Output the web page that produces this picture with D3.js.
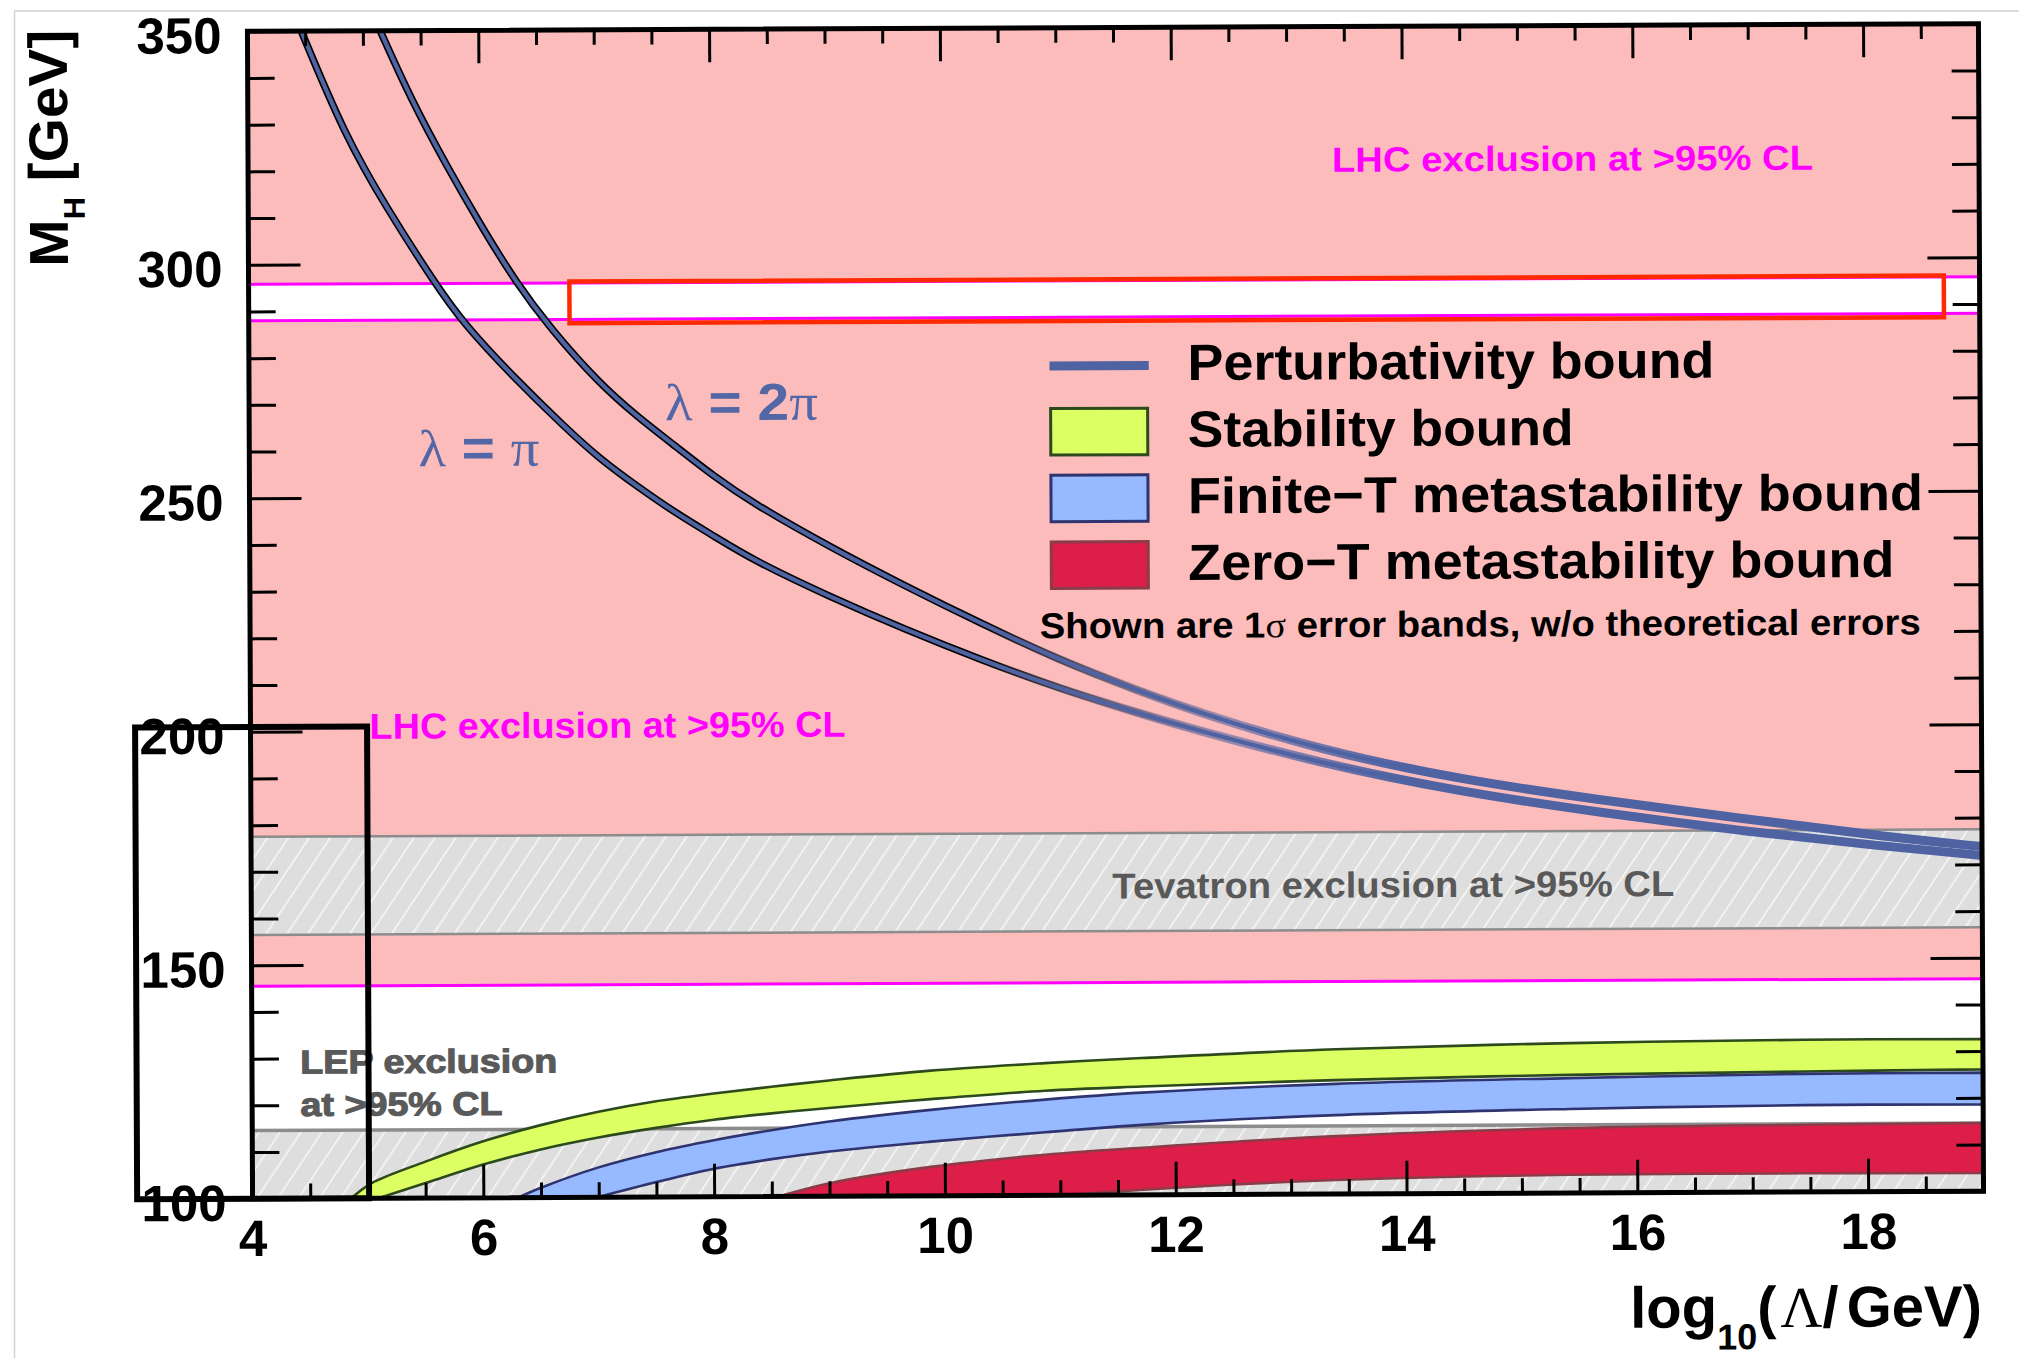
<!DOCTYPE html>
<html>
<head>
<meta charset="utf-8">
<script src="https://cdn.jsdelivr.net/npm/d3@7"></script>
<style>
  html, body { margin: 0; padding: 0; background: #fff; }
  svg { display: block; }
  text { font-family: "Liberation Sans", Arial, Helvetica, sans-serif; font-weight: bold; }
</style>
</head>
<body>
<svg id="chart" width="2019" height="1358"></svg>
<script>
// Higgs mass bounds versus the cut-off scale log10(Λ/GeV)

// axis ticks
const xMajor = [4, 6, 8, 10, 12, 14, 16, 18];
const yMajor = [100, 150, 200, 250, 300, 350];

// perturbativity bounds, λ = π and λ = 2π
const pertPiX  = [4.466, 4.84, 5.195, 5.614, 5.858, 6.30, 6.741, 7.033, 7.365, 7.696, 8.028, 8.36, 9.022, 9.686, 10.336, 11.01, 11.68, 12.05, 13.27, 14.48, 15.70, 16.91, 18.13, 19.0];
const pertPiY  = [350.0, 327.6, 312.2, 295.9, 287.3, 275.5, 264.8, 258.2, 252.1, 246.4, 241.4, 236.3, 228.4, 221.2, 214.7, 208.5, 203.3, 200.5, 192.2, 186.0, 181.4, 177.4, 174.0, 171.9];
const pert2PiX = [5.15, 5.416, 5.725, 6.034, 6.32, 6.61, 7.033, 7.365, 7.696, 8.028, 8.36, 9.022, 9.686, 10.336, 11.01, 11.68, 12.23, 13.27, 14.48, 15.70, 16.91, 18.13, 19.0];
const pert2PiY = [350.0, 335.2, 320.8, 307.4, 295.9, 286.2, 274.3, 267.1, 260.7, 254.2, 248.5, 239.1, 230.5, 222.5, 214.6, 208.1, 203.1, 195.1, 188.6, 184.1, 180.1, 176.1, 173.8];

// stability bound (1σ band)
const stabUpX = [4.855, 5.03, 5.5, 6.0, 6.5, 7.0, 7.5, 8.0, 8.5, 9.0, 9.88, 10.87, 11.71, 13.39, 15.42, 17.45, 19.0];
const stabUpY = [100.0, 103.2, 107.8, 112.1, 115.5, 118.3, 120.5, 122.1, 123.5, 124.8, 126.8, 128.3, 129.3, 131.0, 132.1, 132.6, 132.6];
const stabLoX = [5.09, 5.5, 6.0, 6.5, 7.0, 7.5, 8.0, 8.5, 9.0, 9.88, 10.87, 11.71, 13.39, 15.42, 17.45, 19.0];
const stabLoY = [100.0, 103.2, 107.1, 110.3, 112.8, 114.8, 116.5, 117.8, 118.9, 120.7, 122.4, 123.2, 124.4, 125.3, 125.8, 126.1];

// finite-temperature metastability bound (1σ band)
const finUpX = [6.3, 6.5, 7.0, 7.5, 8.0, 8.5, 9.0, 9.88, 10.87, 11.71, 13.39, 15.42, 17.45, 19.0];
const finUpY = [100.0, 102.1, 106.4, 109.6, 112.1, 114.2, 116.0, 118.4, 120.5, 121.9, 123.6, 124.6, 125.3, 125.4];
const finLoX = [6.99, 7.5, 8.0, 8.5, 9.0, 9.88, 10.87, 11.71, 13.39, 15.42, 17.45, 19.0];
const finLoY = [100.0, 103.2, 106.0, 108.0, 109.6, 111.6, 113.5, 115.0, 116.9, 118.0, 118.6, 118.6];

// zero-temperature metastability bound (1σ band)
const zeroUpX = [8.56, 9.0, 9.88, 10.87, 11.71, 13.39, 15.42, 17.45, 19.0];
const zeroUpY = [100.0, 102.8, 106.2, 108.7, 110.1, 112.4, 113.9, 114.4, 114.6];
const zeroLoX = [11.0, 12.38, 13.39, 14.41, 15.42, 17.45, 19.0];
const zeroLoY = [100.0, 102.0, 103.0, 103.6, 103.9, 104.0, 103.9];

// collider exclusions in M_H (GeV)
const lhcExcl = [[145.5, 288.0], [295.8, 350.0]];
const tevatronExcl = [156.5, 177.5];
const lepLimit = 114.6;

// highlight boxes
const redBoxX = [6.78, 18.69], redBoxY = [287.2, 296.1];
const blackBoxX = [3.0, 5.01], blackBoxY = [100.0, 201.0];

// legend entries
const legendLabels = ["Perturbativity bound", "Stability bound", "Finite\u2212T metastability bound", "Zero\u2212T metastability bound"];
const legendWidths = [527, 386, 735, 706];

const X0 = 250, X1 = 1981, Y0 = 27.5, Y1 = 1195;
const x = d3.scaleLinear().domain([4, 19]).range([X0, X1]);
const y = d3.scaleLinear().domain([100, 350]).range([Y1, Y0]);

const svg = d3.select("#chart");
const defs = svg.append("defs");

const hatch = defs.append("pattern").attr("id", "hatch")
  .attr("patternUnits", "userSpaceOnUse").attr("width", 17.4).attr("height", 17.4)
  .attr("patternTransform", "rotate(34)");
hatch.append("rect").attr("width", 17.4).attr("height", 17.4).attr("fill", "#dedede");
hatch.append("line").attr("x1", 8.7).attr("x2", 8.7).attr("y1", 0).attr("y2", 17.4)
  .attr("stroke", "#f7f7f7").attr("stroke-width", 1.6);

defs.append("clipPath").attr("id", "plotClip").append("rect")
  .attr("x", X0).attr("y", Y0).attr("width", X1 - X0).attr("height", Y1 - Y0);

// outline of the perturbativity curves fades out where the two bands merge
const fade = defs.append("linearGradient").attr("id", "outlineFade")
  .attr("gradientUnits", "userSpaceOnUse").attr("x1", x(10.3)).attr("x2", x(12.6)).attr("y1", 0).attr("y2", 0);
fade.append("stop").attr("offset", 0).attr("stop-color", "#000").attr("stop-opacity", 1);
fade.append("stop").attr("offset", 1).attr("stop-color", "#000").attr("stop-opacity", 0);
const grow = defs.append("linearGradient").attr("id", "blueGrow")
  .attr("gradientUnits", "userSpaceOnUse").attr("x1", x(10.5)).attr("x2", x(14)).attr("y1", 0).attr("y2", 0);
grow.append("stop").attr("offset", 0).attr("stop-color", "#4f63a3").attr("stop-opacity", 0);
grow.append("stop").attr("offset", 1).attr("stop-color", "#4f63a3").attr("stop-opacity", 1);

// faint page border
svg.append("rect").attr("x", 14.5).attr("y", 11).attr("width", 2100).attr("height", 1500)
  .attr("fill", "none").attr("stroke", "#d2d2d2").attr("stroke-width", 1.5);

const root = svg.append("g").attr("transform", "rotate(-0.25, 1116, 612)");
const plot = root.append("g").attr("clip-path", "url(#plotClip)");

// LHC exclusion regions
lhcExcl.forEach(([lo, hi]) => {
  plot.append("rect").attr("x", x(4)).attr("width", x(19) - x(4))
    .attr("y", y(hi)).attr("height", y(lo) - y(hi)).attr("fill", "#fdbcbc");
});

// Tevatron exclusion
plot.append("rect").attr("x", x(4)).attr("width", x(19) - x(4))
  .attr("y", y(tevatronExcl[1])).attr("height", y(tevatronExcl[0]) - y(tevatronExcl[1]))
  .attr("fill", "url(#hatch)");
tevatronExcl.forEach(v => plot.append("line").attr("x1", x(4)).attr("x2", x(19))
  .attr("y1", y(v)).attr("y2", y(v)).attr("stroke", "#8c8c8c").attr("stroke-width", 2.5));

// LEP exclusion
plot.append("rect").attr("x", x(4)).attr("width", x(19) - x(4))
  .attr("y", y(lepLimit)).attr("height", y(100) - y(lepLimit)).attr("fill", "url(#hatch)");
plot.append("line").attr("x1", x(4)).attr("x2", x(19)).attr("y1", y(lepLimit)).attr("y2", y(lepLimit))
  .attr("stroke", "#8c8c8c").attr("stroke-width", 3.5);

// LHC boundaries
lhcExcl.forEach(([lo, hi]) => [lo, hi].filter(v => v < 350).forEach(v =>
  plot.append("line").attr("x1", x(4)).attr("x2", x(19)).attr("y1", y(v)).attr("y2", y(v))
    .attr("stroke", "#ff00ff").attr("stroke-width", 3)));

// bands
const edge = d3.line().x(d => x(d[0])).y(d => y(d[1])).curve(d3.curveCatmullRom.alpha(0.5));
function bandPath(ux, uy, lx, ly) {
  const up = edge(d3.zip(ux, uy));
  const lo = edge(d3.zip(lx, ly).reverse());
  return up + "L" + lo.slice(1) + "Z";
}
const bands = [
  { ux: stabUpX, uy: stabUpY, lx: stabLoX, ly: stabLoY, fill: "#dcff64", stroke: "#2c4a1c" },
  { ux: finUpX,  uy: finUpY,  lx: finLoX,  ly: finLoY,  fill: "#96b9ff", stroke: "#2f3470" },
  { ux: zeroUpX, uy: zeroUpY, lx: zeroLoX, ly: zeroLoY, fill: "#dc1e48", stroke: "#8a3d48" }
];
bands.forEach(b => plot.append("path").attr("d", bandPath(b.ux, b.uy, b.lx, b.ly))
  .attr("fill", b.fill).attr("stroke", b.stroke).attr("stroke-width", 2.6).attr("stroke-linejoin", "round"));

// perturbativity curves
const curve = d3.line().x(d => x(d[0])).y(d => y(d[1])).curve(d3.curveBasis);
[[pertPiX, pertPiY], [pert2PiX, pert2PiY]].forEach(([xs, ys]) => {
  const d = curve(d3.zip(xs, ys));
  plot.append("path").attr("d", d).attr("fill", "none").attr("stroke", "url(#outlineFade)").attr("stroke-width", 7.5);
  plot.append("path").attr("d", d).attr("fill", "none").attr("stroke", "#4f63a3").attr("stroke-width", 4.2);
  plot.append("path").attr("d", d).attr("fill", "none").attr("stroke", "url(#blueGrow)").attr("stroke-width", 9);
});

// annotations
const lhcColor = "#ff00ff";
root.append("text").attr("x", x(13.393)).attr("y", y(318.9)).attr("font-size", 35)
  .attr("fill", lhcColor).attr("textLength", 481).attr("lengthAdjust", "spacingAndGlyphs")
  .text("LHC exclusion at >95% CL");
root.append("text").attr("x", x(5.032)).attr("y", y(198.4)).attr("font-size", 36)
  .attr("fill", lhcColor).attr("textLength", 476).attr("lengthAdjust", "spacingAndGlyphs")
  .text("LHC exclusion at >95% CL");
root.append("text").attr("x", x(11.462)).attr("y", y(163.5)).attr("font-size", 36)
  .attr("fill", "#595959").attr("textLength", 562).attr("lengthAdjust", "spacingAndGlyphs")
  .text("Tevatron exclusion at >95% CL");
[["LEP exclusion", 126.8, 257], ["at >95% CL", 117.7, 202]].forEach(([t, v, w]) =>
  root.append("text").attr("x", x(4.419)).attr("y", y(v)).attr("font-size", 33)
    .attr("fill", "#5a5a5a").attr("stroke", "#5a5a5a").attr("stroke-width", 1.1)
    .attr("textLength", w).attr("lengthAdjust", "spacingAndGlyphs").text(t));

// λ labels
const lamColor = "#5366a6";
function lambdaLabel(xv, yv, two, w) {
  const t = root.append("text").attr("x", x(xv)).attr("y", y(yv)).attr("font-size", 52)
    .attr("fill", lamColor).attr("textLength", w).attr("lengthAdjust", "spacingAndGlyphs");
  t.append("tspan").attr("font-family", "'Liberation Serif','DejaVu Serif',serif").attr("font-weight", "normal").text("\u03bb");
  t.append("tspan").text(two ? " = 2" : " = ");
  t.append("tspan").attr("font-family", "'Liberation Serif','DejaVu Serif',serif").attr("font-weight", "normal").text("\u03c0");
}
lambdaLabel(5.466, 256.7, false, 121);
lambdaLabel(7.603, 266.3, true, 153);

// legend
const lg = root.append("g");
lg.append("line").attr("x1", 1050.6).attr("x2", 1149.8).attr("y1", 365.6).attr("y2", 365.6)
  .attr("stroke", "#4f63a3").attr("stroke-width", 9);
const boxTops = [408.3, 475, 541.7];
bands.forEach((b, i) => lg.append("rect").attr("x", 1051.5).attr("y", boxTops[i])
  .attr("width", 97).attr("height", 46.5).attr("fill", b.fill)
  .attr("stroke", b.stroke).attr("stroke-width", 3));
const baselines = [380.3, 447, 513.6, 580.3];
legendLabels.forEach((t, i) => lg.append("text").attr("x", 1188.5).attr("y", baselines[i])
  .attr("font-size", 51).attr("fill", "#000").attr("textLength", legendWidths[i])
  .attr("lengthAdjust", "spacingAndGlyphs").text(t));
const note = lg.append("text").attr("x", 1039.6).attr("y", 638).attr("font-size", 36)
  .attr("fill", "#000").attr("textLength", 881).attr("lengthAdjust", "spacingAndGlyphs");
note.append("tspan").text("Shown are 1");
note.append("tspan").attr("font-family", "'Liberation Serif','DejaVu Serif',serif").attr("font-weight", "normal").text("\u03c3");
note.append("tspan").text(" error bands, w/o theoretical errors");

// axes: ticks point inward on all four sides
const xMinor = d3.range(4, 19.001, 0.5).filter(v => !xMajor.includes(v));
const yMinor = d3.range(100, 350.001, 10).filter(v => !yMajor.includes(v));
function styleAxis(g, fs) {
  g.select(".domain").remove();
  g.selectAll(".tick line").attr("stroke", "#000").attr("stroke-width", 3);
  g.selectAll(".tick text").attr("fill", "#000").attr("font-size", fs)
    .attr("font-family", "'Liberation Sans', Arial, sans-serif").attr("font-weight", "bold");
}
const axes = root.append("g");
axes.append("g").attr("transform", `translate(0,${Y1})`)
  .call(d3.axisBottom(x).tickValues(xMajor).tickSizeInner(-33).tickSizeOuter(0).tickPadding(21).tickFormat(d3.format("d")))
  .call(g => styleAxis(g, 51));
axes.append("g").attr("transform", `translate(0,${Y1})`)
  .call(d3.axisBottom(x).tickValues(xMinor).tickSize(-15).tickFormat(""))
  .call(g => styleAxis(g, 0));
axes.append("g").attr("transform", `translate(0,${Y0})`)
  .call(d3.axisTop(x).tickValues(xMajor).tickSize(-33).tickFormat(""))
  .call(g => styleAxis(g, 0));
axes.append("g").attr("transform", `translate(0,${Y0})`)
  .call(d3.axisTop(x).tickValues(xMinor).tickSize(-15).tickFormat(""))
  .call(g => styleAxis(g, 0));
axes.append("g").attr("transform", `translate(${X0},0)`)
  .call(d3.axisLeft(y).tickValues(yMajor).tickSizeInner(-52).tickSizeOuter(0).tickPadding(26).tickFormat(d3.format("d")))
  .call(g => styleAxis(g, 51))
  .call(g => g.selectAll(".tick text").attr("dy", "0.42em"));
axes.append("g").attr("transform", `translate(${X0},0)`)
  .call(d3.axisLeft(y).tickValues(yMinor).tickSize(-27).tickFormat(""))
  .call(g => styleAxis(g, 0));
axes.append("g").attr("transform", `translate(${X1},0)`)
  .call(d3.axisRight(y).tickValues(yMajor).tickSize(-52).tickFormat(""))
  .call(g => styleAxis(g, 0));
axes.append("g").attr("transform", `translate(${X1},0)`)
  .call(d3.axisRight(y).tickValues(yMinor).tickSize(-27).tickFormat(""))
  .call(g => styleAxis(g, 0));

// frame
root.append("rect").attr("x", X0).attr("y", Y0).attr("width", X1 - X0).attr("height", Y1 - Y0)
  .attr("fill", "none").attr("stroke", "#000").attr("stroke-width", 5);

// axis titles
const yt = root.append("text").attr("transform", "translate(69.4,262.1) rotate(-90)")
  .attr("fill", "#000").attr("textLength", 237).attr("lengthAdjust", "spacingAndGlyphs");
yt.append("tspan").attr("font-size", 55).text("M");
yt.append("tspan").attr("font-size", 30).attr("dy", 17).text("H");
yt.append("tspan").attr("font-size", 55).attr("dy", -17).text(" [GeV]");

const xt = root.append("text").attr("x", 1627).attr("y", 1330).attr("fill", "#000")
  .attr("textLength", 352).attr("lengthAdjust", "spacingAndGlyphs");
xt.append("tspan").attr("font-size", 58).text("log");
xt.append("tspan").attr("font-size", 36).attr("dy", 22).text("10");
xt.append("tspan").attr("font-size", 58).attr("dy", -22).text("(");
xt.append("tspan").attr("font-size", 58).attr("dx", 4)
  .attr("font-family", "'Liberation Serif','DejaVu Serif',serif").attr("font-weight", "normal").text("\u039b");
xt.append("tspan").attr("font-size", 58).text("/");
xt.append("tspan").attr("font-size", 58).attr("dx", 8).text("GeV)");

// highlight boxes
root.append("rect").attr("x", x(redBoxX[0])).attr("y", y(redBoxY[1]))
  .attr("width", x(redBoxX[1]) - x(redBoxX[0])).attr("height", y(redBoxY[0]) - y(redBoxY[1]))
  .attr("fill", "none").attr("stroke", "#ff2a00").attr("stroke-width", 4.5);
root.append("rect").attr("x", x(blackBoxX[0])).attr("y", y(blackBoxY[1]))
  .attr("width", x(blackBoxX[1]) - x(blackBoxX[0])).attr("height", y(blackBoxY[0]) - y(blackBoxY[1]))
  .attr("fill", "none").attr("stroke", "#000").attr("stroke-width", 6);
</script>
</body>
</html>
